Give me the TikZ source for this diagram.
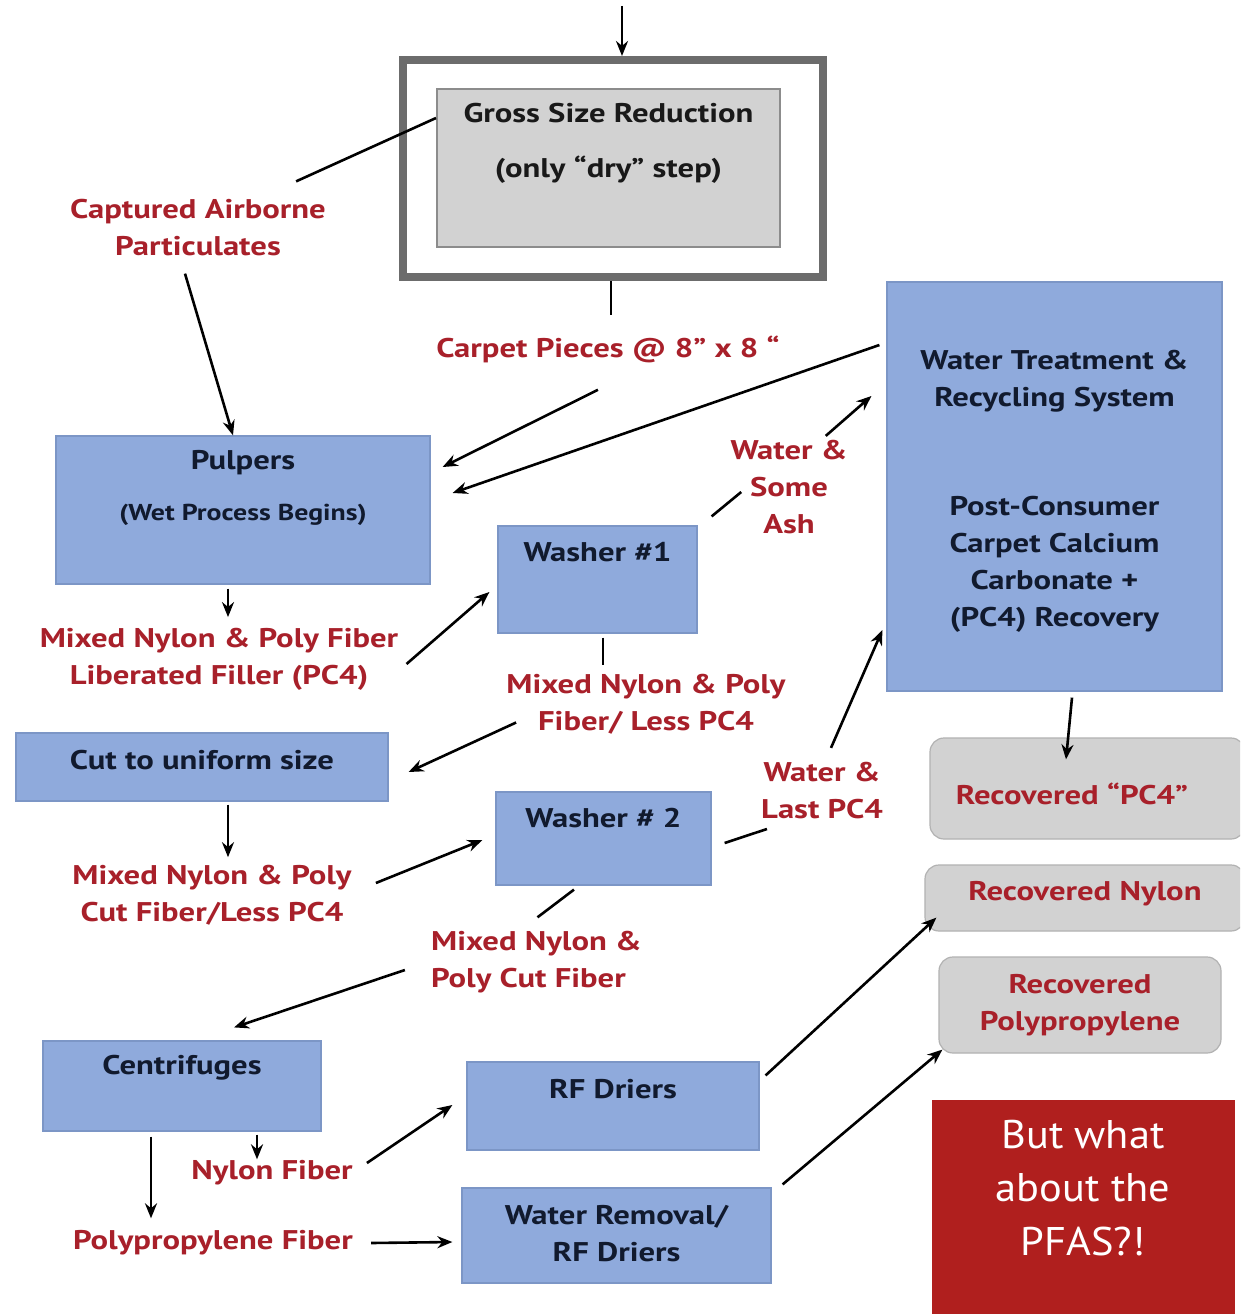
\documentclass[tikz,border=0pt]{standalone}
\usepackage{fontspec}
\setmainfont{PT Sans}[FakeStretch=1.21]
\newfontfamily\pfasfont{PT Sans}[FakeStretch=1.06]
\usetikzlibrary{arrows.meta,positioning}

\definecolor{stageblue}{HTML}{8FAADC}
\definecolor{stageedge}{HTML}{7C96C6}
\definecolor{stageink}{HTML}{111A2E}
\definecolor{flowred}{HTML}{A8202A}
\definecolor{greybox}{HTML}{D2D2D2}
\definecolor{greyedge}{HTML}{8C8C8C}
\definecolor{frameedge}{HTML}{6C6C6C}
\definecolor{outedge}{HTML}{B2B2B2}
\definecolor{pfasred}{HTML}{B01F1E}

\tikzset{
  stagebox/.style={draw=stageedge, fill=stageblue, line width=1.2pt, inner sep=0pt},
  outbox/.style={draw=outedge, fill=greybox, line width=1.2pt, rounded corners=14pt, inner sep=0pt},
  stagetxt/.style={font=\bfseries\fontsize{27}{37}\selectfont, text=stageink, align=center, inner sep=0pt},
  flowlbl/.style={font=\bfseries\fontsize{27}{37}\selectfont, text=flowred, align=center, inner sep=0pt},
}

\begin{document}
\begin{tikzpicture}[x=1pt, y=-1pt, >={Stealth[length=15pt,width=12pt]}, line width=2.6pt]
  % 1. Boxes of the process stages (grey frame on top, blue stages, grey outputs)
  % 2. Red flow labels between the stages
  % 3. Arrows and plain lines from label to stage
  \useasboundingbox (0,0) rectangle (1240,1314);
  \clip (0,0) rectangle (1240,1314);
  \fill[white] (0,0) rectangle (1240,1314);

  % dry step
  \node[draw=frameedge, line width=8pt, fill=white, minimum width=420pt, minimum height=217pt] (outer) at (613,168.5) {};
  \node[draw=greyedge, fill=greybox, line width=2pt, minimum width=343pt, minimum height=158pt] (gross) at (608.5,168) {};
  \node[stagetxt, text=black!90] (grosst) at (608.5,143) {Gross Size Reduction\\[18pt](only “dry” step)};
  \coordinate (feed) at (622,6);

  % wet stages
  \node[stagebox, minimum width=374pt, minimum height=148pt] (pulpers) at (243,510) {};
  \node[stagetxt] (pulperst) at (243,463) {Pulpers};
  \node[stagetxt, font=\bfseries\fontsize{23}{28}\selectfont] (pulpersn) at (243,515) {(Wet Process Begins)};

  \node[stagebox, minimum width=335pt, minimum height=409pt] (wt) at (1054.5,486.5) {};
  \node[stagetxt] (wtt) at (1054.5,381) {Water Treatment \&\\Recycling System};
  \node[stagetxt] (wtn) at (1054.5,564) {Post-Consumer\\Carpet Calcium\\Carbonate +\\(PC4) Recovery};

  \node[stagebox, minimum width=199pt, minimum height=107pt] (washer1) at (597.5,579.5) {};
  \node[stagetxt] (washer1t) at (597.5,552) {Washer \#1};

  \node[stagebox, minimum width=372pt, minimum height=68pt] (cut) at (202,767) {};
  \node[stagetxt] (cutt) at (202,760) {Cut to uniform size};

  \node[stagebox, minimum width=215pt, minimum height=93pt] (washer2) at (603.5,838.5) {};
  \node[stagetxt] (washer2t) at (603.5,818) {Washer \# 2};

  \node[stagebox, minimum width=278pt, minimum height=90pt] (cent) at (182,1086) {};
  \node[stagetxt] (centt) at (182,1068) {Centrifuges};

  \node[stagebox, minimum width=292pt, minimum height=88pt] (rf) at (613,1106) {};
  \node[stagetxt] (rft) at (613,1089) {RF Driers};

  \node[stagebox, minimum width=309pt, minimum height=95pt] (wr) at (616.5,1235.5) {};
  \node[stagetxt] (wrt) at (616.5,1233.5) {Water Removal/\\RF Driers};

  % recovered products
  \node[outbox, minimum width=315pt, minimum height=101pt] (recpc4) at (1087.5,788.5) {};
  \node[flowlbl] (recpc4t) at (1072,794) {Recovered “PC4”};
  \node[outbox, minimum width=320pt, minimum height=66pt] (recnylon) at (1085,898) {};
  \node[flowlbl] (recnylont) at (1085,894) {Recovered Nylon};
  \node[outbox, minimum width=282pt, minimum height=96pt] (recpp) at (1080,1005) {};
  \node[flowlbl] (recppt) at (1080,1005.5) {Recovered\\Polypropylene};

  \node[fill=pfasred, minimum width=303pt, minimum height=220pt, inner sep=0pt] (pfas) at (1083.5,1210) {};
  \node[font=\pfasfont\fontsize{40}{53.5}\selectfont, text=white, align=center, inner sep=0pt] (pfast) at (1083,1188) {But what\\about the\\PFAS?!};

  % flow labels
  \node[flowlbl] (airborne) at (198,228) {Captured Airborne\\Particulates};
  \node[flowlbl] (carpet) at (608,349) {Carpet Pieces @ 8” x 8 “};
  \node[flowlbl] (ash) at (789,487) {Water \&\\Some\\Ash};
  \node[flowlbl] (mix1) at (219,659.5) {Mixed Nylon \& Poly Fiber\\Liberated Filler (PC4)};
  \node[flowlbl] (mix2) at (646,704.5) {Mixed Nylon \& Poly\\Fiber/ Less PC4};
  \node[flowlbl] (mix3) at (212,895.5) {Mixed Nylon \& Poly\\Cut Fiber/Less PC4};
  \node[flowlbl] (lastpc4) at (822,790.5) {Water \&\\Last PC4};
  \node[flowlbl, align=left] (mix4) at (536.5,962.5) {Mixed Nylon \&\\Poly Cut Fiber};
  \node[flowlbl] (nylon) at (272,1173) {Nylon Fiber};
  \node[flowlbl] (pp) at (213,1243) {Polypropylene Fiber};

  % connectors
  \draw[->] (feed) -- (feed |- outer.north);
  \draw ([yshift=50pt]gross.west) -- ([xshift=-31pt,yshift=17pt]airborne.north east);
  \draw[->] ([xshift=-13pt,yshift=-16pt]airborne.south) -- ([xshift=-10pt]pulpers.north);
  \draw (outer.south -| 611,0) -- ([xshift=3pt,yshift=19pt]carpet.north);
  \draw[->] ([xshift=-10pt,yshift=-26pt]carpet.south) -- ([xshift=12pt,yshift=43pt]pulpers.east);
  \draw[->] ([xshift=-7pt,yshift=141.5pt]wt.west) -- ([xshift=22pt,yshift=17pt]pulpers.east);
  \draw ([xshift=14pt,yshift=9pt]washer1.north east) -- ([xshift=12pt,yshift=-5pt]ash.west);
  \draw[->] ([xshift=-23pt,yshift=3pt]ash.north east) -- ([xshift=-15pt,yshift=90.5pt]wt.west);
  \draw[->] ([xshift=-15pt,yshift=-4pt]pulpers.south) -- ([xshift=9pt,yshift=10pt]mix1.north);
  \draw[->] ([xshift=7pt,yshift=-4.5pt]mix1.east) -- ([xshift=-8pt,yshift=-12.5pt]washer1.west);
  \draw ([xshift=5.5pt,yshift=-4pt]washer1.south) -- ([xshift=-43pt,yshift=8pt]mix2.north);
  \draw[->] ([xshift=11pt,yshift=-18pt]mix2.west) -- ([xshift=20pt,yshift=-5pt]cut.east);
  \draw[->] ([xshift=26pt,yshift=-3pt]cut.south) -- ([xshift=16pt,yshift=7pt]mix3.north);
  \draw[->] ([xshift=23pt,yshift=12.5pt]mix3.east) -- ([xshift=-13pt,yshift=-1.5pt]washer2.west);
  \draw ([xshift=13pt,yshift=-4.5pt]washer2.east) -- ([xshift=7pt,yshift=-38.5pt]lastpc4.west);
  \draw[->] ([xshift=9pt,yshift=13pt]lastpc4.north) -- ([xshift=-4pt,yshift=-143.5pt]wt.west);
  \draw ([xshift=-29.5pt,yshift=-4pt]washer2.south) -- ([xshift=1pt,yshift=13pt]mix4.north);
  \draw[->] ([xshift=-25pt,yshift=-7.5pt]mix4.west) -- ([xshift=52pt,yshift=13pt]cent.north);
  \draw[->] ([xshift=75pt,yshift=-3pt]cent.south) -- ([xshift=-15pt]nylon.north);
  \draw[->] ([xshift=-31pt,yshift=-5pt]cent.south) -- ([xshift=-62pt,yshift=11pt]pp.north);
  \draw[->] ([xshift=13pt,yshift=10pt]nylon.east) -- ([xshift=-14pt,yshift=1pt]rf.west);
  \draw[->] ([xshift=17pt]pp.east) -- ([xshift=-9pt,yshift=-6.5pt]wr.west);
  \draw[->] ([xshift=6pt,yshift=-14pt]rf.north east) -- ([xshift=12pt,yshift=14pt]recnylon.south west);
  \draw[->] ([xshift=11pt,yshift=3pt]wr.north east) -- ([xshift=4pt,yshift=4pt]recpp.south west);
  \draw[->] ([xshift=17.5pt,yshift=-6pt]wt.south) -- ([xshift=-21.5pt,yshift=-22pt]recpc4.north);
\end{tikzpicture}
\end{document}
